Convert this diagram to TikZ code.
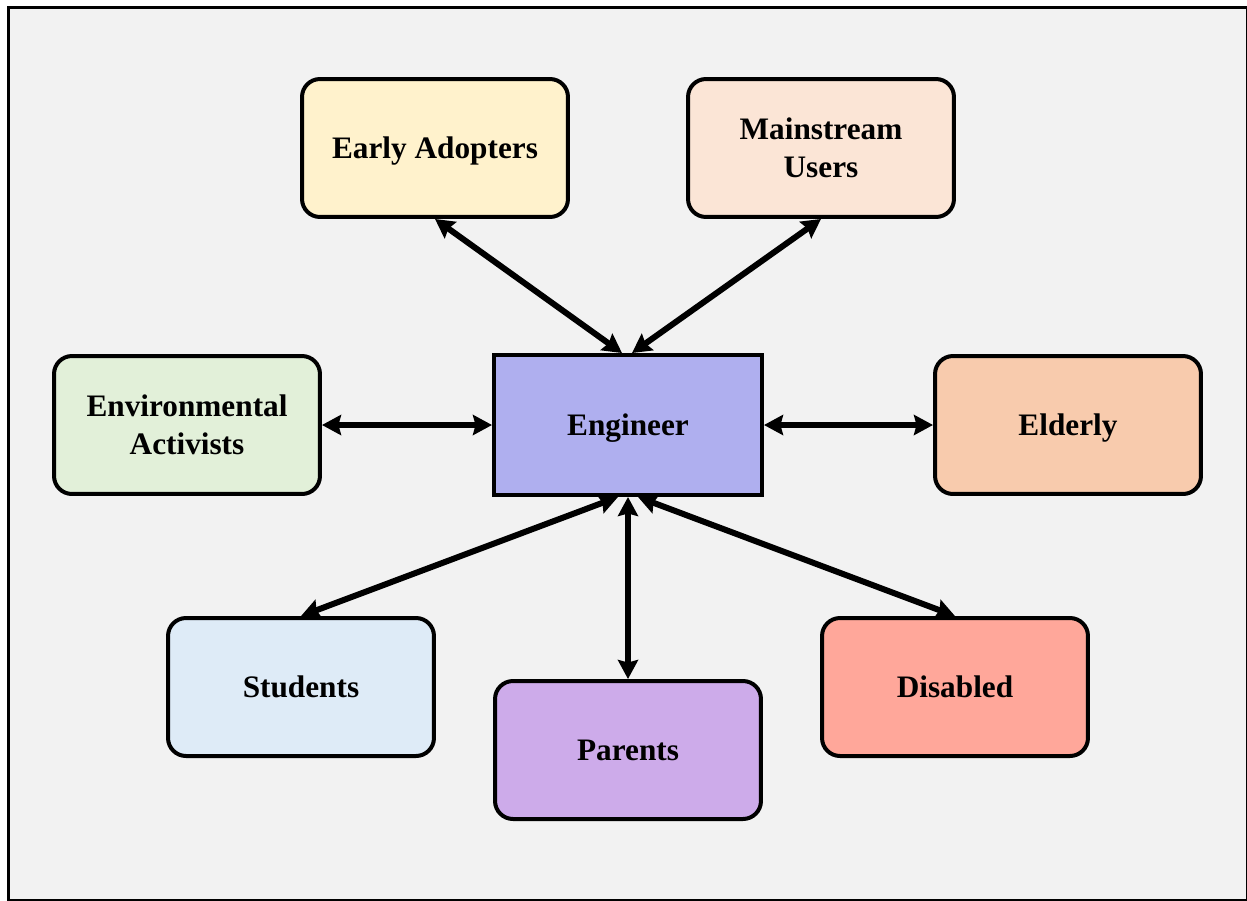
\documentclass[tikz,border=0pt]{standalone}
\usepackage{fontspec}
\setmainfont{Liberation Serif}
\usepackage{tikz}
\usetikzlibrary{arrows.meta,positioning}
\usepackage{xcolor}

\definecolor{bgGray}{HTML}{F2F2F2}
\definecolor{eaFill}{HTML}{FFF2CC}
\definecolor{msFill}{HTML}{FBE5D6}
\definecolor{envFill}{HTML}{E2F0D9}
\definecolor{engFill}{HTML}{AFAFEF}
\definecolor{eldFill}{HTML}{F8CBAD}
\definecolor{stuFill}{HTML}{DEEBF7}
\definecolor{parFill}{HTML}{CDABEA}
\definecolor{disFill}{HTML}{FFA79A}

\begin{document}
\begin{tikzpicture}[x=0.02cm,y=-0.02cm,
    link/.style={{Stealth[length=0.38cm,width=0.4cm,inset=0.05cm]}-{Stealth[length=0.38cm,width=0.4cm,inset=0.05cm]},line width=0.12cm},
    group/.style={draw=black,line width=0.08cm,rounded corners=0.36cm,minimum width=5.32cm,minimum height=2.76cm,
                  align=center,font=\fontsize{17.8}{21.5}\selectfont\bfseries},
    oneline/.style={text depth=0pt},
    center/.style={group,rounded corners=0pt,minimum width=5.36cm,minimum height=2.8cm}]
  \useasboundingbox (0,0) rectangle (1247,900);
  \fill[white] (0,0) rectangle (1247,900);
  \filldraw[fill=bgGray,draw=black,line width=0.06cm] (8.5,7.5) rectangle (1247,900);

  \node[center, oneline, fill=engFill] (eng) at (628,425) {Engineer};
  \node[group, oneline, fill=eaFill]   (ea)  at (435,148) {Early Adopters};
  \node[group, fill=msFill]            (ms)  at (821,148) {Mainstream\\Users};
  \node[group, fill=envFill]           (env) at (187,425) {Environmental\\Activists};
  \node[group, oneline, fill=eldFill]  (eld) at (1068,425) {Elderly};
  \node[group, oneline, fill=stuFill]  (stu) at (301,687) {Students};
  \node[group, oneline, fill=parFill]  (par) at (628,750) {Parents};
  \node[group, oneline, fill=disFill]  (dis) at (955,687) {Disabled};

  \draw[link] ([xshift=-0.12cm]eng.north) -- (ea.south);
  \draw[link] ([xshift=0.08cm]eng.north)  -- (ms.south);
  \draw[link] (env.east) -- (eng.west);
  \draw[link] (eng.east) -- (eld.west);
  \draw[link] ([xshift=-0.2cm]eng.south)  -- (stu.north);
  \draw[link] (eng.south) -- (par.north);
  \draw[link] ([xshift=0.2cm]eng.south)   -- (dis.north);
\end{tikzpicture}
\end{document}
